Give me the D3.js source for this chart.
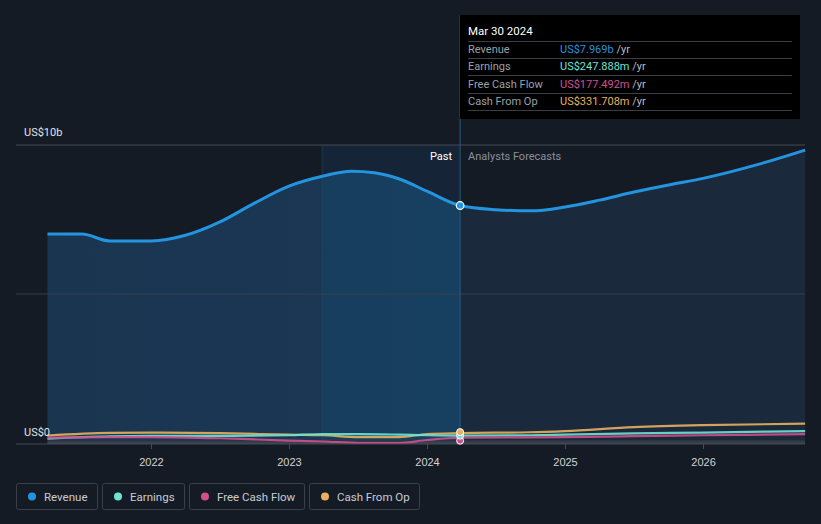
<!DOCTYPE html>
<html><head><meta charset="utf-8">
<script src="https://cdn.jsdelivr.net/npm/d3@7/dist/d3.min.js"></script>
<style>
html,body{margin:0;padding:0;background:#151b25;}
svg{display:block;font-family:Roboto,"Noto Sans",sans-serif;}
</style></head><body>
<svg id="c" width="821" height="524"></svg>
<script>
// ---- data (values in US$ billions, x in decimal years) ----
const revenueT = [2021.25,2021.5,2021.7,2022.0,2022.25,2022.5,2022.75,2023.0,2023.25,2023.45,2023.62,2023.8,2024.0,2024.24,2024.5,2024.75,2025.0,2025.25,2025.5,2025.75,2026.0,2026.4,2026.74];
const revenueV = [7.01,7.01,6.78,6.78,6.97,7.42,8.05,8.62,8.96,9.12,9.07,8.86,8.45,7.969,7.83,7.79,7.92,8.15,8.42,8.66,8.88,9.35,9.83];
const smallT = [2021.25,2021.7,2022.0,2022.5,2023.0,2023.25,2023.5,2023.8,2024.0,2024.24,2024.75,2025.0,2025.5,2026.0,2026.74];
const earningsV = [0.15,0.22,0.24,0.24,0.26,0.30,0.30,0.28,0.26,0.248,0.26,0.28,0.32,0.35,0.40];
const fcfV      = [0.18,0.20,0.20,0.16,0.08,0.05,0.00,0.00,0.10,0.177,0.19,0.20,0.23,0.26,0.30];
const cfoV      = [0.25,0.34,0.35,0.33,0.28,0.26,0.20,0.20,0.30,0.332,0.36,0.40,0.53,0.60,0.65];
const xTicks = [2022,2023,2024,2025,2026];
const yTicks = [0,5,10];
const nowT = 2024.24, pastStart = 2023.24;
const seriesNames = ["Revenue","Earnings","Free Cash Flow","Cash From Op"];
const seriesColors = ["#2394df","#6fe3d1","#d14f8e","#e8b05e"];
const tipValues = ["US$7.969b","US$247.888m","US$177.492m","US$331.708m"];

const svg = d3.select("#c");
const L=16, R=805, T=145, B=443;
const x = d3.scaleLinear().domain([2021.022,2026.739]).range([L,R]);
const y = d3.scaleLinear().domain([0,10]).range([B,T]);

const defs = svg.append("defs");
const g1 = defs.append("linearGradient").attr("id","pastG").attr("x1",0).attr("x2",1).attr("y1",0).attr("y2",0);
g1.append("stop").attr("offset","0%").attr("stop-color","#1a3550");
g1.append("stop").attr("offset","100%").attr("stop-color","#1a3a58");
const g2 = defs.append("linearGradient").attr("id","hiG").attr("x1",0).attr("x2",1).attr("y1",0).attr("y2",0);
g2.append("stop").attr("offset","0%").attr("stop-color","#173a58");
g2.append("stop").attr("offset","100%").attr("stop-color","#174466");
const g3 = defs.append("linearGradient").attr("id","belowG").attr("x1",0).attr("x2",0).attr("y1",0).attr("y2",1);
g3.append("stop").attr("offset","0%").attr("stop-color","#2a3240");
g3.append("stop").attr("offset","100%").attr("stop-color","#4a4f58");

const pts = revenueT.map((t,i)=>[t,revenueV[i]]);
const area = d3.area().x(d=>x(d[0])).y0(y(0)).y1(d=>y(d[1])).curve(d3.curveMonotoneX);
const line = d3.line().x(d=>x(d[0])).y(d=>y(d[1])).curve(d3.curveMonotoneX);

defs.append("clipPath").attr("id","cpPast").append("rect").attr("x",0).attr("y",0).attr("width",x(nowT)).attr("height",524);
defs.append("clipPath").attr("id","cpHi").append("rect").attr("x",x(pastStart)).attr("y",0).attr("width",x(nowT)-x(pastStart)).attr("height",524);
defs.append("clipPath").attr("id","cpFut").append("rect").attr("x",x(nowT)).attr("y",0).attr("width",821).attr("height",524);

// area fills
svg.append("path").datum(pts).attr("d",area).attr("fill","#1a2a3c").attr("clip-path","url(#cpFut)");
svg.append("path").datum(pts).attr("d",area).attr("fill","url(#pastG)").attr("clip-path","url(#cpPast)");
// highlight band (full height of plot)
svg.append("rect").attr("x",x(pastStart)).attr("y",T).attr("width",x(nowT)-x(pastStart)).attr("height",B-T).attr("fill","#173a58").attr("opacity",0.35);
svg.append("path").datum(pts).attr("d",area).attr("fill","url(#hiG)").attr("clip-path","url(#cpHi)");
svg.append("line").attr("x1",x(pastStart)).attr("x2",x(pastStart)).attr("y1",T).attr("y2",B).attr("stroke","#1d4a6a").attr("stroke-width",1).attr("opacity",0.6);

// gridlines
yTicks.filter(v=>v>0).forEach(v=>{
  svg.append("line").attr("x1",L).attr("x2",R).attr("y1",y(v)).attr("y2",y(v))
    .attr("stroke",v===10?"#4a505a":"#3a4350").attr("stroke-width",1).attr("opacity",0.9);
});

// below-zero strip
svg.append("rect").attr("x",x(revenueT[0])).attr("y",y(0)-3).attr("width",R-x(revenueT[0])).attr("height",4).attr("fill","url(#belowG)").attr("opacity",0.8);

// small series
const small = [earningsV,fcfV,cfoV];
const smallColors = [seriesColors[1],seriesColors[2],seriesColors[3]];
[2,0,1].forEach(k=>{
  const d = smallT.map((t,i)=>[t,small[k][i]]);
  svg.append("path").datum(d).attr("d",line).attr("fill","none").attr("stroke",smallColors[k]).attr("stroke-width",2.2).attr("opacity",0.9);
});

// revenue line
svg.append("path").datum(pts).attr("d",line).attr("fill","none").attr("stroke","#2394df").attr("stroke-width",3);

// x axis
const xAxis = d3.axisBottom(x).tickValues(xTicks).tickFormat(d3.format("d")).tickSize(5);
const gx = svg.append("g").attr("transform",`translate(0,${B+1})`).call(xAxis);
gx.select(".domain").attr("stroke","#444a55").attr("d",`M${L},0H${R}`);
gx.selectAll(".tick line").attr("stroke","#444a55");
gx.selectAll("text").attr("fill","#d0d3d8").attr("font-size",11).attr("dy","1.3em");

// y labels
svg.append("text").attr("x",24).attr("y",136).text("US$10b").attr("fill","#e0e3e8").attr("font-size",11);
svg.append("text").attr("x",24).attr("y",436).text("US$0").attr("fill","#e0e3e8").attr("font-size",11);

// now line
svg.append("line").attr("x1",x(nowT)).attr("x2",x(nowT)).attr("y1",15).attr("y2",B).attr("stroke","#2a5a80").attr("stroke-width",1);

// Past / forecasts labels
svg.append("text").attr("x",x(nowT)-8).attr("y",160).attr("text-anchor","end").text("Past").attr("fill","#ffffff").attr("font-size",11);
svg.append("text").attr("x",x(nowT)+8).attr("y",160).text("Analysts Forecasts").attr("fill","#8a8f98").attr("font-size",11);

// markers at now
svg.append("circle").attr("cx",x(nowT)).attr("cy",y(7.969)).attr("r",3.8).attr("fill","#2394df").attr("stroke","#fff").attr("stroke-width",1.2);
[[fcfV,2],[earningsV,1],[cfoV,3]].forEach(([arr,k])=>{
  const v = arr[smallT.indexOf(nowT)];
  svg.append("circle").attr("cx",x(nowT)).attr("cy",y(v)+(k===2?3:k===3?-1:0)).attr("r",3.5).attr("fill",seriesColors[k]).attr("stroke","#fff").attr("stroke-width",1);
});

// tooltip
const tip = svg.append("g").attr("transform","translate(460,15)");
tip.append("rect").attr("width",340).attr("height",104).attr("fill","#000000");
tip.append("text").attr("x",8).attr("y",20).text("Mar 30 2024").attr("fill","#fff").attr("font-size",11.5);
const rowY=[34,51,69,86];
tip.append("line").attr("x1",8).attr("x2",332).attr("y1",26.5).attr("y2",26.5).attr("stroke","#3a3f46");
seriesNames.forEach((n,i)=>{
  tip.append("text").attr("x",8).attr("y",rowY[i]+4).text(n).attr("fill","#9aa0a8").attr("font-size",11);
  const t = tip.append("text").attr("x",100).attr("y",rowY[i]+4).attr("font-size",11);
  t.append("tspan").text(tipValues[i]).attr("fill",seriesColors[i]);
  t.append("tspan").text(" /yr").attr("fill","#b8bcc2");
  tip.append("line").attr("x1",8).attr("x2",332).attr("y1",rowY[i]+9.5).attr("y2",rowY[i]+9.5).attr("stroke","#3a3f46");
});

// legend
const legW=[82,83,116,111], legX=[16,102,189,309];
seriesNames.forEach((n,i)=>{
  const lg = svg.append("g").attr("transform",`translate(${legX[i]},483)`);
  lg.append("rect").attr("x",0.5).attr("y",0.5).attr("width",legW[i]-1).attr("height",26).attr("rx",2).attr("fill","none").attr("stroke","#3a404a");
  lg.append("circle").attr("cx",16).attr("cy",13.5).attr("r",4).attr("fill",seriesColors[i]);
  lg.append("text").attr("x",28).attr("y",17.5).text(n).attr("fill","#c8ccd2").attr("font-size",11.5);
});
</script>
</body></html>
